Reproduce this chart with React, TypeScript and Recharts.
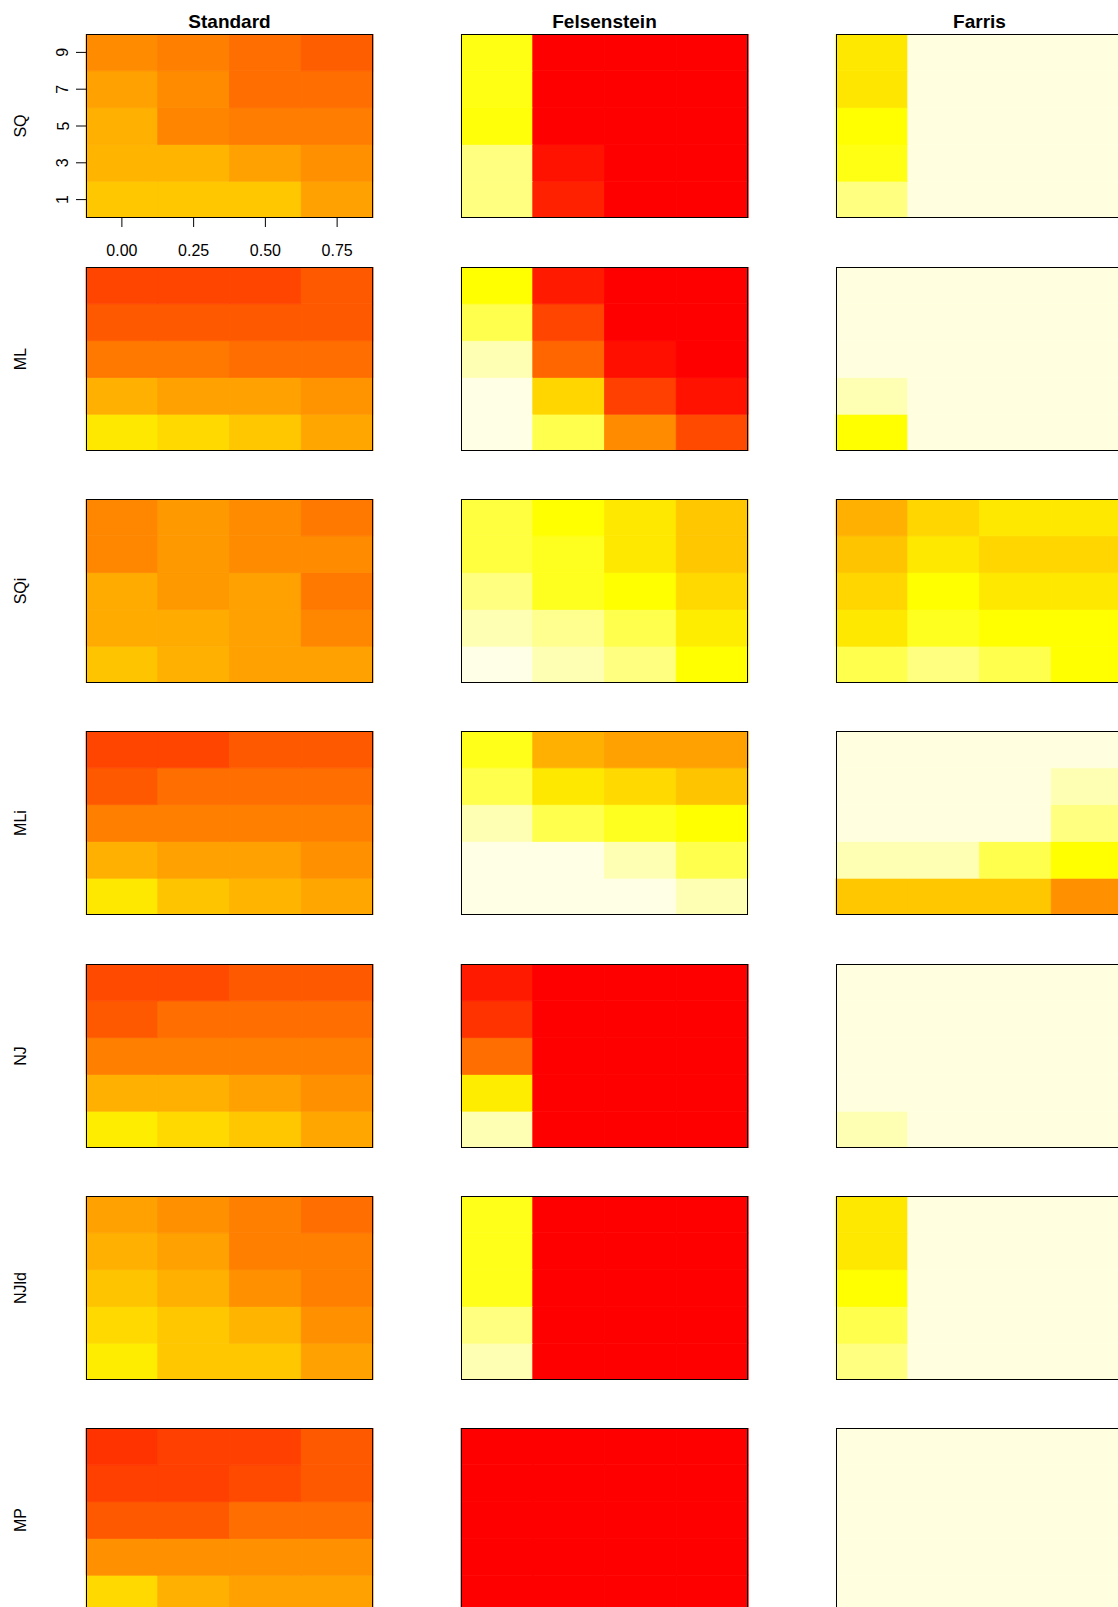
import React from 'react'
import { BarChart, Bar, Cell, XAxis, YAxis } from 'recharts'

const methods = ['Standard', 'Felsenstein', 'Farris']
const models = ['SQ', 'ML', 'SQi', 'MLi', 'NJ', 'NJld', 'MP']
const xLabels = ['0.00', '0.25', '0.50', '0.75']
const yLevels = [1, 3, 5, 7, 9]
const yBin = 2

// cell scores, rows from top (9) down to bottom (1)
// 0 = red, 1 = yellow, ~1.9 = pale cream (heat palette)
const sqStandard = [
  [0.55, 0.5, 0.43, 0.37],
  [0.63, 0.55, 0.43, 0.43],
  [0.69, 0.52, 0.49, 0.49],
  [0.71, 0.71, 0.63, 0.57],
  [0.78, 0.78, 0.78, 0.63],
]
const sqFelsenstein = [
  [1.08, 0, 0, 0],
  [1.08, 0, 0, 0],
  [1.04, 0, 0, 0],
  [1.5, 0.07, 0, 0],
  [1.5, 0.13, 0, 0],
]
const sqFarris = [
  [0.91, 1.88, 1.88, 1.88],
  [0.9, 1.88, 1.88, 1.88],
  [1.0, 1.88, 1.88, 1.88],
  [1.08, 1.88, 1.88, 1.88],
  [1.5, 1.88, 1.88, 1.88],
]
const mlStandard = [
  [0.27, 0.27, 0.27, 0.35],
  [0.35, 0.35, 0.35, 0.35],
  [0.47, 0.47, 0.43, 0.43],
  [0.69, 0.63, 0.63, 0.58],
  [0.91, 0.85, 0.78, 0.65],
]
const mlFelsenstein = [
  [1.0, 0.1, 0, 0],
  [1.3, 0.27, 0, 0],
  [1.7, 0.4, 0.06, 0],
  [1.9, 0.84, 0.25, 0.07],
  [1.9, 1.3, 0.55, 0.29],
]
const mlFarris = [
  [1.88, 1.88, 1.88, 1.88],
  [1.88, 1.88, 1.88, 1.88],
  [1.88, 1.88, 1.88, 1.88],
  [1.7, 1.88, 1.88, 1.88],
  [1.0, 1.88, 1.88, 1.88],
]
const sqiStandard = [
  [0.53, 0.6, 0.55, 0.47],
  [0.53, 0.6, 0.55, 0.55],
  [0.67, 0.6, 0.63, 0.47],
  [0.67, 0.67, 0.63, 0.53],
  [0.77, 0.69, 0.63, 0.63],
]
const sqiFelsenstein = [
  [1.25, 1.0, 0.91, 0.78],
  [1.25, 1.12, 0.91, 0.78],
  [1.5, 1.12, 1.0, 0.85],
  [1.7, 1.56, 1.3, 0.93],
  [1.91, 1.7, 1.5, 1.0],
]
const sqiFarris = [
  [0.69, 0.84, 0.91, 0.91],
  [0.77, 0.91, 0.84, 0.84],
  [0.84, 1.0, 0.91, 0.91],
  [0.91, 1.12, 1.0, 1.0],
  [1.3, 1.5, 1.3, 1.0],
]
const mliStandard = [
  [0.27, 0.27, 0.35, 0.35],
  [0.35, 0.43, 0.43, 0.43],
  [0.5, 0.5, 0.5, 0.5],
  [0.69, 0.63, 0.63, 0.57],
  [0.91, 0.77, 0.71, 0.65],
]
const mliFelsenstein = [
  [1.1, 0.69, 0.63, 0.63],
  [1.3, 0.91, 0.85, 0.77],
  [1.7, 1.3, 1.12, 1.0],
  [1.9, 1.9, 1.7, 1.3],
  [1.9, 1.9, 1.9, 1.7],
]
const mliFarris = [
  [1.88, 1.88, 1.88, 1.88],
  [1.88, 1.88, 1.88, 1.7],
  [1.88, 1.88, 1.88, 1.5],
  [1.7, 1.7, 1.3, 1.0],
  [0.78, 0.78, 0.78, 0.57],
]
const njStandard = [
  [0.29, 0.29, 0.35, 0.35],
  [0.35, 0.43, 0.43, 0.43],
  [0.5, 0.5, 0.5, 0.5],
  [0.69, 0.69, 0.63, 0.57],
  [0.93, 0.85, 0.78, 0.65],
]
const njFelsenstein = [
  [0.1, 0, 0, 0],
  [0.2, 0, 0, 0],
  [0.43, 0, 0, 0],
  [0.93, 0, 0, 0],
  [1.7, 0, 0, 0],
]
const njFarris = [
  [1.88, 1.88, 1.88, 1.88],
  [1.88, 1.88, 1.88, 1.88],
  [1.88, 1.88, 1.88, 1.88],
  [1.88, 1.88, 1.88, 1.88],
  [1.7, 1.88, 1.88, 1.88],
]
const njldStandard = [
  [0.63, 0.57, 0.5, 0.43],
  [0.69, 0.63, 0.5, 0.5],
  [0.77, 0.69, 0.57, 0.5],
  [0.85, 0.78, 0.71, 0.57],
  [0.93, 0.78, 0.78, 0.63],
]
const njldFelsenstein = [
  [1.1, 0, 0, 0],
  [1.1, 0, 0, 0],
  [1.1, 0, 0, 0],
  [1.5, 0, 0, 0],
  [1.7, 0, 0, 0],
]
const njldFarris = [
  [0.91, 1.88, 1.88, 1.88],
  [0.91, 1.88, 1.88, 1.88],
  [1.0, 1.88, 1.88, 1.88],
  [1.3, 1.88, 1.88, 1.88],
  [1.5, 1.88, 1.88, 1.88],
]
const mpStandard = [
  [0.2, 0.25, 0.25, 0.35],
  [0.25, 0.25, 0.29, 0.35],
  [0.35, 0.35, 0.43, 0.43],
  [0.57, 0.57, 0.57, 0.57],
  [0.85, 0.69, 0.63, 0.63],
]
const mpFelsenstein = [
  [0, 0, 0, 0],
  [0, 0, 0, 0],
  [0, 0, 0, 0],
  [0, 0, 0, 0],
  [0, 0, 0, 0],
]
const mpFarris = [
  [1.88, 1.88, 1.88, 1.88],
  [1.88, 1.88, 1.88, 1.88],
  [1.88, 1.88, 1.88, 1.88],
  [1.88, 1.88, 1.88, 1.88],
  [1.88, 1.88, 1.88, 1.88],
]

const grid = [
  [sqStandard, sqFelsenstein, sqFarris],
  [mlStandard, mlFelsenstein, mlFarris],
  [sqiStandard, sqiFelsenstein, sqiFarris],
  [mliStandard, mliFelsenstein, mliFarris],
  [njStandard, njFelsenstein, njFarris],
  [njldStandard, njldFelsenstein, njldFarris],
  [mpStandard, mpFelsenstein, mpFarris],
]

const FONT = '"Liberation Sans", Arial, Helvetica, sans-serif'
const PW = 287
const PH = 184
const AXIS_W = 90
const AXIS_H = 50
const colLeft = [86, 461, 836]
const rowTop = [34, 267, 499, 731, 964, 1196, 1428]

function heat(v: number) {
  if (v <= 1) return `rgb(255,${Math.round(255 * v)},0)`
  return `rgb(255,255,${Math.round(255 * Math.min(v - 1, 0.95))})`
}

const YTick = (props: any) => {
  const { x, y, payload } = props
  const tx = x - 13
  return (
    <text
      x={tx}
      y={y}
      transform={`rotate(-90 ${tx} ${y})`}
      textAnchor="middle"
      dominantBaseline="central"
      fontSize={16}
      fontFamily={FONT}
      fill="#000"
    >
      {payload.value}
    </text>
  )
}

function Panel({ cells, axes }: { cells: number[][]; axes: boolean }) {
  const data = xLabels.map((x) => {
    const d: Record<string, any> = { x }
    yLevels.forEach((_, j) => {
      d['r' + j] = yBin
    })
    return d
  })
  return (
    <BarChart
      width={AXIS_W + PW + 6}
      height={PH + AXIS_H}
      data={data}
      margin={{ top: 0, right: 6, bottom: 0, left: 0 }}
      barCategoryGap={0}
      barGap={0}
    >
      <XAxis
        dataKey="x"
        type="category"
        height={AXIS_H}
        axisLine={false}
        tickLine={axes ? { stroke: '#000' } : false}
        tick={axes ? { fontSize: 16, fill: '#000', fontFamily: FONT } : false}
        tickSize={9}
        tickMargin={18}
        interval={0}
      />
      <YAxis
        type="number"
        domain={[0, yLevels.length * yBin]}
        ticks={yLevels}
        width={AXIS_W}
        axisLine={false}
        tickLine={axes ? { stroke: '#000' } : false}
        tick={axes ? <YTick /> : false}
        tickSize={10}
        tickMargin={0}
        allowDataOverflow
      />
      {yLevels.map((_, j) => (
        <Bar key={j} dataKey={'r' + j} stackId="s" isAnimationActive={false}>
          {xLabels.map((_, i) => {
            const col = heat(cells[yLevels.length - 1 - j][i])
            return <Cell key={i} fill={col} stroke={col} strokeWidth={0.8} />
          })}
        </Bar>
      ))}
    </BarChart>
  )
}

export default function App() {
  return (
    <div
      style={{
        position: 'absolute',
        left: 0,
        top: 0,
        width: 1118,
        height: 1607,
        overflow: 'hidden',
        background: '#fff',
      }}
    >
      {grid.map((row, r) =>
        row.map((cells, c) => (
          <div
            key={r + '-' + c}
            style={{ position: 'absolute', left: colLeft[c] - AXIS_W, top: rowTop[r] }}
          >
            <Panel cells={cells} axes={r === 0 && c === 0} />
          </div>
        ))
      )}
      <svg
        width={1118}
        height={1607}
        style={{ position: 'absolute', left: 0, top: 0, pointerEvents: 'none' }}
      >
        {methods.map((m, c) => (
          <text
            key={m}
            x={colLeft[c] + PW / 2}
            y={28}
            textAnchor="middle"
            fontSize={19}
            fontWeight="bold"
            fontFamily={FONT}
            fill="#000"
          >
            {m}
          </text>
        ))}
        {models.map((m, r) => {
          const cy = rowTop[r] + PH / 2
          return (
            <text
              key={m}
              x={20}
              y={cy}
              transform={`rotate(-90 20 ${cy})`}
              textAnchor="middle"
              dominantBaseline="central"
              fontSize={16}
              fontFamily={FONT}
              fill="#000"
            >
              {m}
            </text>
          )
        })}
        {rowTop.map((t, r) =>
          colLeft.map((l, c) => (
            <rect
              key={r + '-' + c}
              x={l + 0.5}
              y={t + 0.5}
              width={PW - 1}
              height={PH - 1}
              fill="none"
              stroke="#000"
              strokeWidth={1}
            />
          ))
        )}
      </svg>
    </div>
  )
}
